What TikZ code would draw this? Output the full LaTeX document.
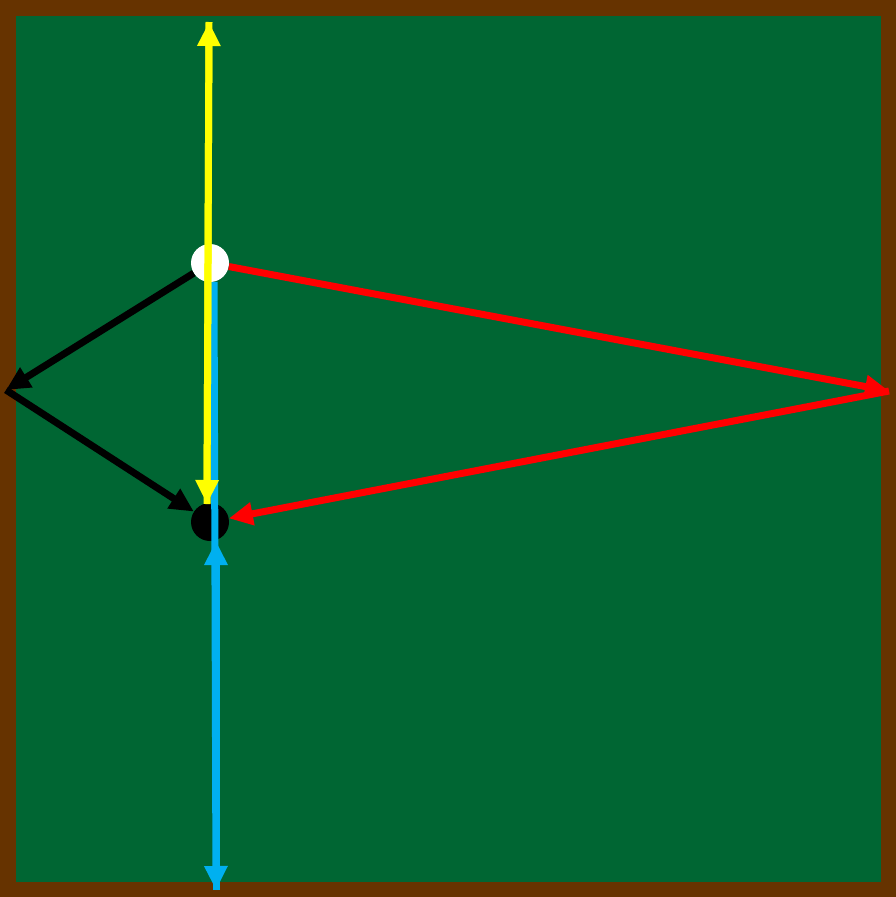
\documentclass[tikz,border=0pt]{standalone}
\usetikzlibrary{arrows.meta}
\definecolor{frame}{HTML}{663300}
\definecolor{felt}{HTML}{006633}
\definecolor{cueyel}{HTML}{FFFF00}
\definecolor{cueblue}{HTML}{00B0F0}
\definecolor{cuered}{HTML}{FF0000}
\tikzset{
  ball/.style={circle, minimum size=38pt, inner sep=0pt, draw=none},
  path/.style={line width=7pt, -{Triangle[length=24pt,width=22pt]}},
}
\begin{document}
\begin{tikzpicture}[x=1pt,y=-1pt]
\useasboundingbox (0,0) rectangle (896,897);
\fill[frame] (0,0) rectangle (896,897);
\fill[felt] (16,16) rectangle (881,882);
\node[ball, fill=white] (w) at (210,263) {};
\node[ball, fill=black] (b) at (210,522) {};
\coordinate (top) at (209,22);
\coordinate (ytip) at (207,504);
\coordinate (bstart) at (214,282);
\coordinate (btip) at (216,541);
\coordinate (bot) at (216,890);
\coordinate (left) at (6,390);
\coordinate (right) at (889,391);
% black bank path
\draw[path, black] (w) -- (left);
\draw[path, black] (left) -- (b);
% red bank path
\draw[path, cuered] (w) -- (right);
\draw[path, cuered] (right) -- (b);
% blue
\draw[path, cueblue] (bstart) -- (bot);
\draw[path, cueblue] (bot) -- (btip);
% yellow
\draw[path, cueyel] (ytip) -- (top);
\draw[path, cueyel] (top) -- (ytip);
\end{tikzpicture}
\end{document}
